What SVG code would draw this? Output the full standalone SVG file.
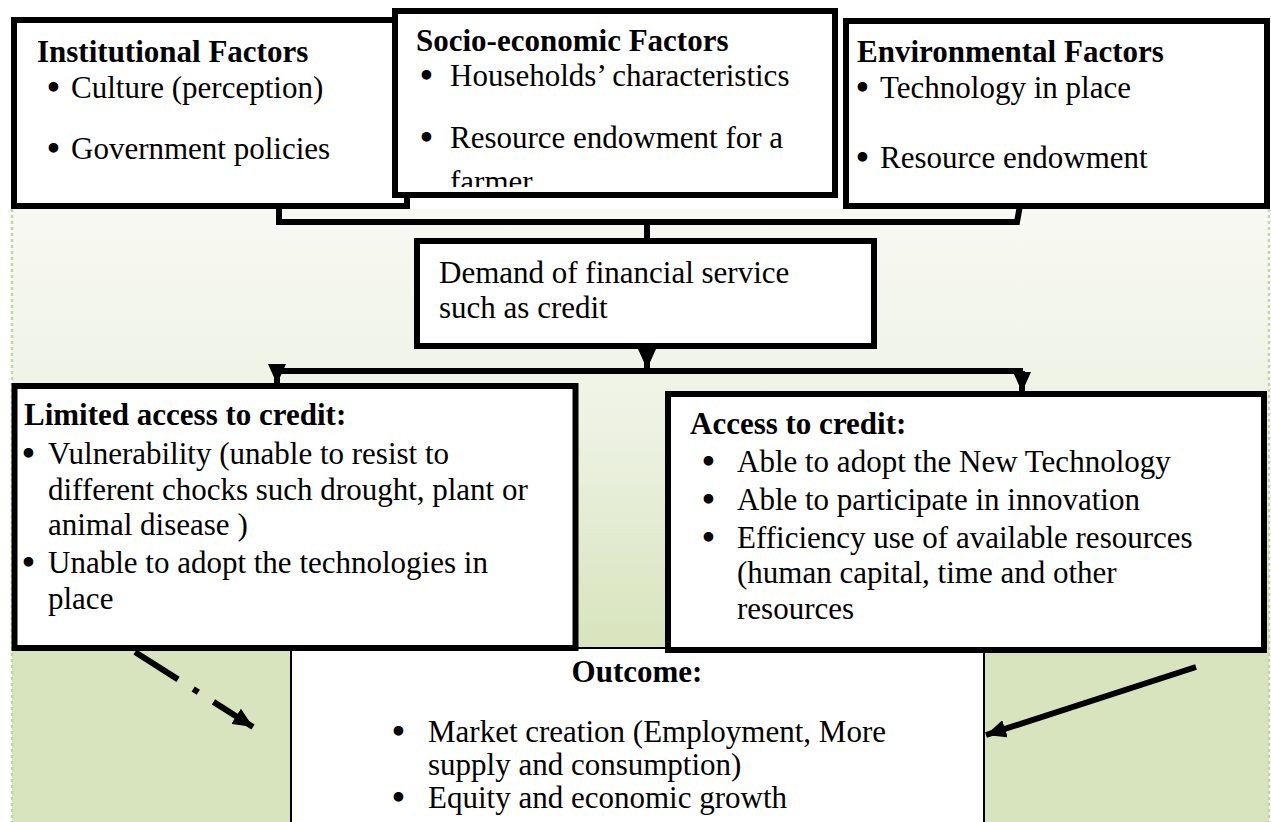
<svg xmlns="http://www.w3.org/2000/svg" width="1271" height="822" viewBox="0 0 1271 822">
<style>
.box{fill:#ffffff;stroke:#000000;stroke-width:6}
.thin{fill:#ffffff;stroke:#000000;stroke-width:2}
.t{font-family:"Liberation Serif","Times New Roman",serif;font-size:31px;fill:#000000}
.bl{font-family:"Liberation Serif","Times New Roman",serif;font-size:31px;fill:#000000;stroke:#000000;stroke-width:2.2}
.b{font-weight:bold}
.c{fill:none;stroke:#000000;stroke-width:6}
.edge{stroke:#c3d69b;stroke-width:2.5;stroke-dasharray:3 3}
</style>
<defs>
<linearGradient id="bg" gradientUnits="userSpaceOnUse" x1="0" y1="209" x2="0" y2="645">
<stop offset="0" stop-color="#f8f9f3"/>
<stop offset="0.5" stop-color="#edf2e3"/>
<stop offset="1" stop-color="#d8e4bd"/>
</linearGradient>
<marker id="head" markerUnits="userSpaceOnUse" markerWidth="20" markerHeight="18" viewBox="0 0 20 18" refX="20" refY="9" orient="auto">
<path d="M0,0 L20,9 L0,18 z" fill="#000000"/>
</marker>
<clipPath id="socioClip"><rect x="398" y="14" width="434" height="173"/></clipPath>
</defs>
<g id="background">
<rect x="12" y="209" width="1257" height="613" fill="url(#bg)"/>
<line class="edge" x1="12" y1="209" x2="12" y2="822"/>
<line class="edge" x1="1269" y1="209" x2="1269" y2="822"/>
</g>
<g id="connectors">
<polyline class="c" points="279,200 279,222 1017,222 1021,200"/>
<line class="c" x1="647" y1="222" x2="647" y2="241"/>
<line class="c" x1="647" y1="349" x2="647" y2="369" marker-end="url(#head)"/>
<line class="c" x1="277" y1="371" x2="1023" y2="371"/>
<line class="c" x1="277" y1="371" x2="277" y2="384" marker-end="url(#head)"/>
<line class="c" x1="1022" y1="371" x2="1022" y2="392" marker-end="url(#head)"/>
<line class="c" x1="135" y1="652" x2="253" y2="727" stroke-dasharray="51 18 6 18 100" marker-end="url(#head)"/>
<line class="c" x1="1196" y1="667" x2="986" y2="735" marker-end="url(#head)"/>
</g>
<g id="institutional">
<rect class="box" x="14" y="20" width="393" height="186"/>
<text class="t b" x="37" y="62">Institutional Factors</text>
<text class="bl" x="48" y="98">•</text>
<text class="t" x="71" y="98">Culture (perception)</text>
<text class="bl" x="48" y="159">•</text>
<text class="t" x="71" y="159">Government policies</text>
</g>
<g id="socioeconomic">
<rect class="box" x="395" y="11" width="440" height="184"/>
<text class="t b" x="416" y="51">Socio-economic Factors</text>
<text class="bl" x="421" y="86">•</text>
<text class="t" x="450" y="86">Households’ characteristics</text>
<text class="bl" x="421" y="148">•</text>
<text class="t" x="450" y="148">Resource endowment for a</text>
<text class="t" x="450" y="192" clip-path="url(#socioClip)">farmer</text>
</g>
<g id="environmental">
<rect class="box" x="846" y="21" width="421" height="185"/>
<text class="t b" x="857" y="62">Environmental Factors</text>
<text class="bl" x="857" y="98">•</text>
<text class="t" x="880" y="98">Technology in place</text>
<text class="bl" x="857" y="168">•</text>
<text class="t" x="880" y="168">Resource endowment</text>
</g>
<g id="demand">
<rect class="box" x="417" y="241" width="457" height="105"/>
<text class="t" x="439" y="283">Demand of financial service</text>
<text class="t" x="439" y="318">such as credit</text>
</g>
<g id="outcome">
<rect class="thin" x="291" y="648" width="693" height="190"/>
<text class="t b" x="637" y="682" text-anchor="middle">Outcome:</text>
<text class="bl" x="393" y="742">•</text>
<text class="t" x="428" y="742">Market creation (Employment, More</text>
<text class="t" x="428" y="775">supply and consumption)</text>
<text class="bl" x="393" y="808">•</text>
<text class="t" x="428" y="808">Equity and economic growth</text>
</g>
<g id="limited">
<rect class="box" x="14.5" y="386" width="561" height="262"/>
<text class="t b" x="24" y="425">Limited access to credit:</text>
<text class="bl" x="23" y="464">•</text>
<text class="t" x="48" y="464">Vulnerability (unable to resist to</text>
<text class="t" x="48" y="500">different chocks such drought, plant or</text>
<text class="t" x="48" y="535">animal disease )</text>
<text class="bl" x="23" y="573">•</text>
<text class="t" x="48" y="573">Unable to adopt the technologies in</text>
<text class="t" x="48" y="609">place</text>
</g>
<g id="access">
<rect class="box" x="668" y="394" width="596" height="256"/>
<text class="t b" x="690" y="434">Access to credit:</text>
<text class="bl" x="703" y="472">•</text>
<text class="t" x="737" y="472">Able to adopt the New Technology</text>
<text class="bl" x="703" y="510">•</text>
<text class="t" x="737" y="510">Able to participate in innovation</text>
<text class="bl" x="703" y="548">•</text>
<text class="t" x="737" y="548">Efficiency use of available resources</text>
<text class="t" x="737" y="583">(human capital, time and other</text>
<text class="t" x="737" y="619">resources</text>
</g>
</svg>
